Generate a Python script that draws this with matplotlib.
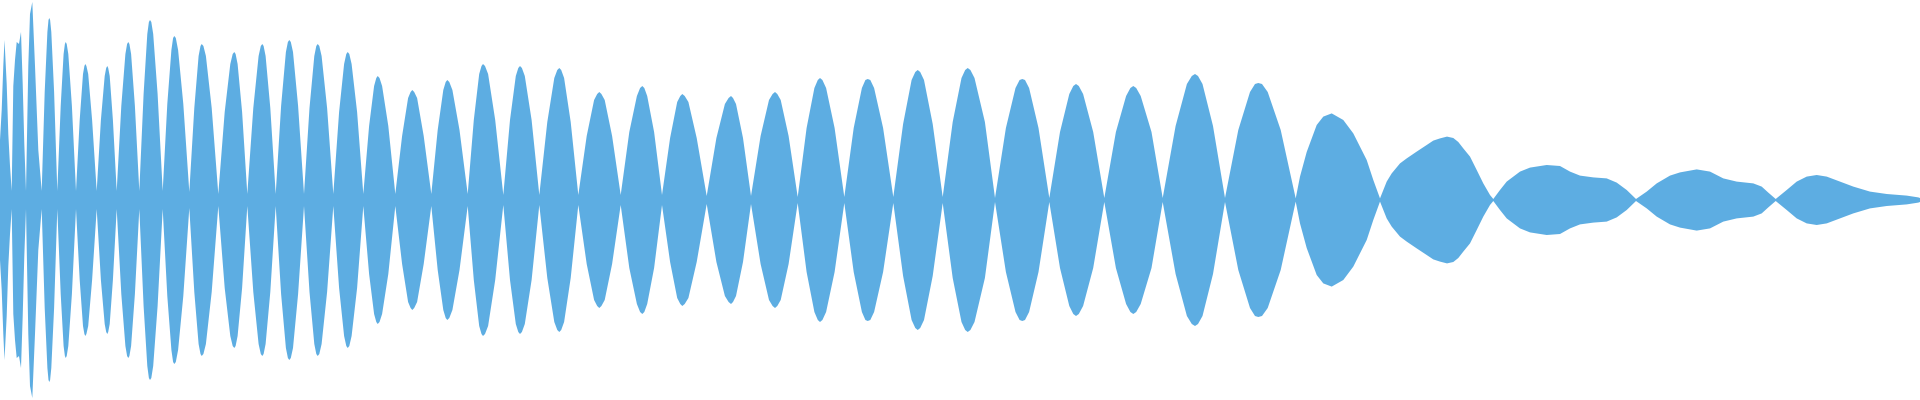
import numpy as np
import matplotlib
matplotlib.use("Agg")
import matplotlib.pyplot as plt

# --- envelope of the waveform ----------------------------------------------
# position along the clip (0..1920) and peak amplitude (0..1), one row per lobe
# (each row starts at the pinch point between two lobes)
env_x = [
    0, 1.7, 3.3, 4.5, 6.7, 8.3, 10,
    11.7, 13.3, 15, 16.7, 19, 21, 22.7, 24.3,
    26, 28.3, 30, 32.3, 35, 38.3,
    41.7, 44.7, 47.4, 48.5, 49.3, 50.1, 51.3, 54.1,
    57.3, 60.7, 63.6, 64.9, 65.7, 66.7, 68.3, 71.9,
    76, 79.7, 83.0, 84.4, 85.3, 86.4, 88.2, 92.1,
    96.7, 100.9, 104.7, 106.2, 107.3, 108.2, 109.7, 112.9,
    116.7, 121.3, 125.4, 127.1, 128.3, 129.4, 131.1, 134.9,
    139.3, 143.6, 147.3, 148.9, 150, 151.3, 153.2, 157.6,
    162.7, 167.3, 171.4, 173.1, 174.3, 175.8, 178.1, 183.3,
    189.3, 194.3, 198.6, 200.5, 201.7, 203.4, 205.9, 211.7,
    218.3, 224.7, 230.3, 232.7, 234.3, 235.6, 237.6, 242.1,
    247.3, 253.3, 258.6, 260.8, 262.3, 263.6, 265.6, 270.3,
    275.7, 281.1, 285.9, 287.9, 289.3, 290.8, 293.0, 298.1,
    304, 309.5, 314.3, 316.3, 317.7, 319.3, 321.6, 327.1,
    333.3, 339.1, 344.1, 346.3, 347.7, 349.3, 351.6, 357.1,
    363.3, 369.1, 374.1, 376.3, 377.7, 379.5, 382.1, 388.3,
    395.3, 402.1, 408.1, 410.6, 412.3, 414.2, 417.1, 423.7,
    431.3, 437.7, 443.3, 445.7, 447.3, 449.3, 452.4, 459.5,
    467.7, 473.8, 479.2, 481.5, 483, 485.0, 488.1, 495.2,
    503.3, 510.0, 515.8, 518.3, 520, 521.9, 524.8, 531.6,
    539.3, 547.3, 554.3, 557.3, 559.3, 561.2, 564.1, 570.7,
    578.3, 586.7, 594.1, 597.2, 599.3, 601.4, 604.7, 612.1,
    620.7, 629.3, 636.9, 640.1, 642.3, 644.3, 647.2, 654.1,
    662, 670.1, 677.2, 680.3, 682.3, 684.7, 688.4, 696.7,
    706.7, 716.4, 724.9, 728.6, 731, 733.0, 736.0, 743.0,
    751, 760.6, 769.0, 772.6, 775, 777.3, 780.7, 788.6,
    797.7, 806.6, 814.4, 817.8, 820, 822.4, 826.1, 834.6,
    844.3, 853.7, 861.9, 865.4, 867.7, 870.3, 874.1, 883.1,
    893.3, 903.1, 911.6, 915.3, 917.7, 920.2, 924.0, 932.7,
    942.7, 952.7, 961.5, 965.2, 967.7, 970.4, 974.5, 984.9,
    995, 1005.9, 1015.5, 1019.6, 1022.3, 1025.0, 1029.1, 1038.5,
    1049.3, 1060.0, 1069.3, 1073.3, 1076, 1078.8, 1083.1, 1093.2,
    1104.3, 1115.9, 1126.1, 1130.4, 1133.3, 1136.2, 1140.7, 1151.5,
    1162.7, 1175.6, 1186.9, 1191.8, 1195, 1198.0, 1202.5, 1213.0,
    1225, 1238.3, 1250.0, 1255.0, 1258.3, 1262.0, 1267.7, 1280.7,
    1295.7, 1300, 1306.7, 1316.7, 1323.3, 1331.7, 1343.3, 1353.3, 1366.7, 1373.3,
    1380, 1386.7, 1391.7, 1400, 1406.7, 1416.7, 1426.7, 1433.3, 1440, 1447,
    1453.3, 1458.3, 1463.3, 1470, 1476.7, 1483.3, 1490,
    1493.3, 1500, 1506.7, 1520, 1530, 1546.7, 1560, 1570, 1580, 1593.3,
    1606.7, 1616.7, 1626.7,
    1636, 1646.7, 1656.7, 1670, 1680, 1696.7, 1710, 1723.3, 1736.7, 1753.3,
    1761.7, 1768.3,
    1775.7, 1786.7, 1796.7, 1806.7, 1816.7, 1826.7, 1840, 1853.3, 1870, 1886.7,
    1906.7, 1918.3, 1920,
]
env_amp = [
    0.30, 0.45, 0.67, 0.80, 0.58, 0.33, 0.17,
    0.045, 0.57, 0.70, 0.79, 0.78, 0.84, 0.58, 0.28,
    0.045, 0.67, 0.93, 0.99, 0.67, 0.25,
    0.045, 0.54, 0.84, 0.90, 0.91, 0.90, 0.84, 0.54,
    0.045, 0.47, 0.73, 0.78, 0.79, 0.78, 0.73, 0.47,
    0.045, 0.40, 0.63, 0.67, 0.68, 0.67, 0.63, 0.40,
    0.045, 0.40, 0.62, 0.66, 0.67, 0.66, 0.62, 0.40,
    0.045, 0.47, 0.73, 0.78, 0.79, 0.78, 0.73, 0.47,
    0.045, 0.53, 0.83, 0.89, 0.90, 0.89, 0.83, 0.53,
    0.045, 0.48, 0.75, 0.81, 0.82, 0.81, 0.75, 0.48,
    0.04, 0.46, 0.72, 0.77, 0.78, 0.77, 0.72, 0.46,
    0.03, 0.44, 0.68, 0.73, 0.74, 0.73, 0.68, 0.44,
    0.03, 0.46, 0.72, 0.77, 0.78, 0.77, 0.72, 0.46,
    0.03, 0.47, 0.74, 0.79, 0.80, 0.79, 0.74, 0.47,
    0.03, 0.46, 0.72, 0.77, 0.78, 0.77, 0.72, 0.46,
    0.03, 0.44, 0.68, 0.73, 0.74, 0.73, 0.68, 0.44,
    0.03, 0.37, 0.57, 0.61, 0.62, 0.61, 0.57, 0.37,
    0.03, 0.32, 0.51, 0.54, 0.55, 0.54, 0.51, 0.32,
    0.03, 0.35, 0.55, 0.59, 0.60, 0.59, 0.55, 0.35,
    0.03, 0.40, 0.63, 0.67, 0.68, 0.67, 0.63, 0.40,
    0.025, 0.40, 0.62, 0.66, 0.67, 0.66, 0.62, 0.40,
    0.025, 0.39, 0.61, 0.65, 0.66, 0.65, 0.61, 0.39,
    0.025, 0.32, 0.50, 0.53, 0.54, 0.53, 0.50, 0.32,
    0.025, 0.34, 0.52, 0.56, 0.57, 0.56, 0.52, 0.34,
    0.025, 0.31, 0.49, 0.52, 0.53, 0.52, 0.49, 0.31,
    0.02, 0.31, 0.48, 0.51, 0.52, 0.51, 0.48, 0.31,
    0.02, 0.32, 0.50, 0.53, 0.54, 0.53, 0.50, 0.32,
    0.015, 0.36, 0.56, 0.60, 0.61, 0.60, 0.56, 0.36,
    0.015, 0.36, 0.56, 0.60, 0.605, 0.60, 0.56, 0.36,
    0.015, 0.38, 0.60, 0.64, 0.65, 0.64, 0.60, 0.38,
    0.015, 0.39, 0.61, 0.65, 0.66, 0.65, 0.61, 0.39,
    0.01, 0.36, 0.56, 0.60, 0.605, 0.60, 0.56, 0.36,
    0.01, 0.34, 0.53, 0.57, 0.58, 0.57, 0.53, 0.34,
    0.01, 0.34, 0.52, 0.56, 0.57, 0.56, 0.52, 0.34,
    0.01, 0.37, 0.58, 0.62, 0.63, 0.62, 0.58, 0.37,
    0.01, 0.35, 0.54, 0.58, 0.585, 0.58, 0.54, 0.35,
    0.008, 0.117, 0.24, 0.375, 0.417, 0.433, 0.40, 0.333, 0.20, 0.10,
    0.008, 0.092, 0.133, 0.183, 0.208, 0.242, 0.275, 0.297, 0.308, 0.317,
    0.31, 0.29, 0.258, 0.217, 0.15, 0.083, 0.025,
    0.005, 0.05, 0.092, 0.142, 0.162, 0.175, 0.17, 0.142, 0.122, 0.113,
    0.108, 0.087, 0.05,
    0.005, 0.042, 0.083, 0.122, 0.138, 0.153, 0.142, 0.108, 0.092, 0.083,
    0.067, 0.037,
    0.005, 0.05, 0.092, 0.117, 0.125, 0.117, 0.092, 0.067, 0.042, 0.03,
    0.022, 0.013, 0.01,
]

WAVE_COLOR = "#5DADE2"

x = np.array(env_x)
amp = np.array(env_amp)

fig = plt.figure(figsize=(19.2, 4), dpi=100)
ax = fig.add_axes([0, 0, 1, 1])
ax.fill_between(x, -amp, amp, color=WAVE_COLOR, linewidth=0)
ax.set_xlim(0, 1920)
ax.set_ylim(-1, 1)
ax.axis("off")

fig.savefig("out.png", dpi=100)
